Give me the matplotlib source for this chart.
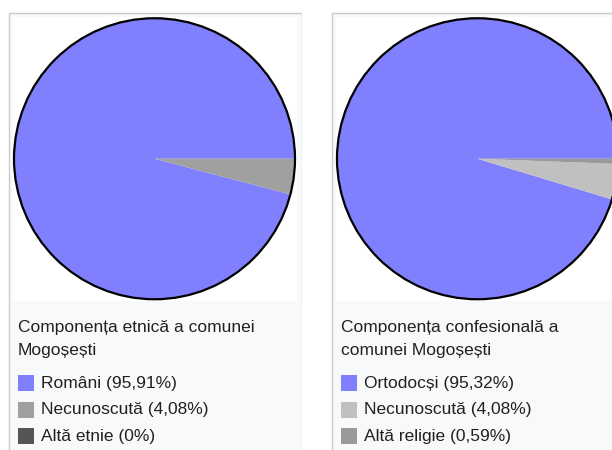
import matplotlib.pyplot as plt
from matplotlib.patches import Rectangle, Circle

plt.rcParams['font.family'] = ['Liberation Sans', 'DejaVu Sans']

# date din recensamant
etnie_labels = ['Români', 'Necunoscută', 'Altă etnie']
etnie_values = [95.91, 4.08, 0.0]
etnie_text = ['95,91%', '4,08%', '0%']
etnie_colors = ['#8080ff', '#a0a0a0', '#555555']
etnie_title = 'Componența etnică a comunei\nMogoșești'

relig_labels = ['Ortodocși', 'Necunoscută', 'Altă religie']
relig_values = [95.32, 4.08, 0.59]
relig_text = ['95,32%', '4,08%', '0,59%']
relig_colors = ['#8080ff', '#c0c0c0', '#999999']
relig_title = 'Componența confesională a\ncomunei Mogoșești'

W, H = 612, 450
fig = plt.figure(figsize=(W / 100, H / 100), dpi=100)
fig.patch.set_facecolor('white')


def px(x, y, w, h):
    # pixel box (top-left origin) -> figure fraction
    return [x / W, 1 - (y + h) / H, w / W, h / H]


def draw_box(x0, labels, values, texts, colors, title):
    # cadrul gri al casetei
    bx = fig.add_axes(px(x0, 12, 294, 460))
    bx.set_xlim(0, 294)
    bx.set_ylim(460, 0)
    bx.axis('off')
    bx.add_patch(Rectangle((0.5, 0.5), 293, 459, facecolor='#f8f9fa',
                           edgecolor='#c8ccd1', lw=1))
    bx.add_patch(Rectangle((5, 5), 284, 284, facecolor='white', edgecolor='none'))
    bx.text(10, 315, title.split('\n')[0], fontsize=12.5, color='#202122', va='center')
    bx.text(10, 338, title.split('\n')[1], fontsize=12.5, color='#202122', va='center')
    for i, (lab, t, c) in enumerate(zip(labels, texts, colors)):
        yy = 371 + i * 26.5
        bx.add_patch(Rectangle((10, yy - 8), 16, 16, facecolor=c, edgecolor='none'))
        bx.text(33, yy, f'{lab} ({t})', fontsize=12.5, color='#202122',
                va='center')

    # placinta
    r = 140.5
    cx = x0 + 6 + r
    ax = fig.add_axes(px(cx - r - 2, 158.75 - r - 2, 2 * r + 4, 2 * r + 4))
    ax.pie(values, colors=colors, startangle=0, counterclock=True,
           wedgeprops=dict(edgecolor='none', linewidth=0))
    lim = (r + 2) / r
    ax.set_xlim(-lim, lim)
    ax.set_ylim(-lim, lim)
    ax.set_aspect('equal')
    ax.add_patch(Circle((0, 0), 1, facecolor='none', edgecolor='black', lw=1.6))
    ax.axis('off')


draw_box(8, etnie_labels, etnie_values, etnie_text, etnie_colors, etnie_title)
draw_box(331, relig_labels, relig_values, relig_text, relig_colors, relig_title)

fig.savefig('out.png', dpi=100)
